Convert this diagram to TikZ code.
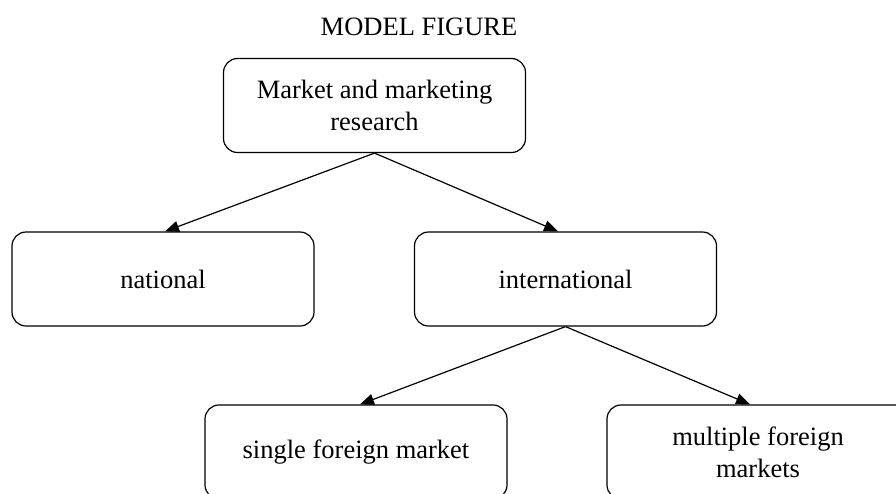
\documentclass[tikz,border=0pt]{standalone}
\usepackage{fontspec}
\setmainfont{Liberation Serif}
\usetikzlibrary{arrows.meta}
\begin{document}
\begin{tikzpicture}[x=1pt,y=1pt,
  box/.style={draw=black, line width=1.2pt, rounded corners=14pt, minimum width=302pt, minimum height=94pt, inner sep=0pt, align=center, font=\fontsize{26.5}{32}\selectfont},
  conn/.style={draw=black, line width=1.2pt, -{Triangle[length=14pt,width=11pt]}}]
\useasboundingbox (0,0) rectangle (896,-493);
\clip (0,0) rectangle (896,-493);
\node[anchor=base, font=\fontsize{26.5}{32}\selectfont] (title) at (419,-35) {MODEL FIGURE};
\node[box] (top) at (374.5,-105.5) {Market and marketing\\research};
\node[box] (nat) at (163,-279) {national};
\node[box] (int) at (565.5,-279) {international};
\node[box] (single) at (356,-452) {single foreign market};
\node[box] (multi) at (758,-452) {multiple foreign\\markets};
\draw[conn] (top.south) -- ([xshift=2pt]nat.north);
\draw[conn] (top.south) -- ([xshift=-7.5pt]int.north);
\draw[conn] (int.south) -- ([xshift=4pt]single.north);
\draw[conn] (int.south) -- ([xshift=-8pt]multi.north);
\end{tikzpicture}
\end{document}
